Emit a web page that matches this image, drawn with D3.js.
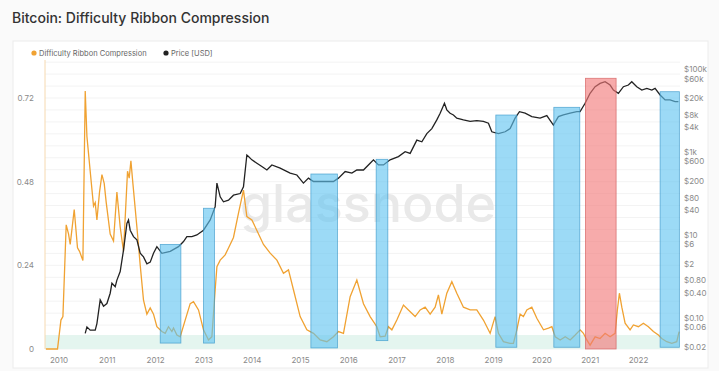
<!DOCTYPE html>
<html>
<head>
<meta charset="utf-8">
<script src="https://cdn.jsdelivr.net/npm/d3@7/dist/d3.min.js"></script>
<style>
    body { margin: 0; background: #fafafa; font-family: Inter, "Noto Sans", sans-serif; }
</style>
</head>
<body>
<div id="grafico"></div>
<script>
// datos (anos decimales)
var compYears = [2009.739, 2009.979, 2010.05, 2010.091, 2010.159, 2010.207, 2010.242, 2010.325, 2010.393, 2010.435,
    2010.505, 2010.553, 2010.588, 2010.656, 2010.725, 2010.76, 2010.795, 2010.849, 2010.899, 2010.946,
    2010.988, 2011.07, 2011.139, 2011.209, 2011.277, 2011.346, 2011.429, 2011.464, 2011.499, 2011.54,
    2011.623, 2011.692, 2011.76, 2011.83, 2011.899, 2011.967, 2012.037, 2012.141, 2012.209, 2012.277,
    2012.348, 2012.381, 2012.451, 2012.52, 2012.623, 2012.727, 2012.795, 2012.899, 2013.002, 2013.106,
    2013.176, 2013.244, 2013.28, 2013.348, 2013.451, 2013.52, 2013.623, 2013.727, 2013.83, 2013.9,
    2014.004, 2014.108, 2014.244, 2014.383, 2014.522, 2014.658, 2014.762, 2014.865, 2015.004, 2015.143,
    2015.28, 2015.418, 2015.557, 2015.693, 2015.797, 2015.901, 2016.039, 2016.178, 2016.315, 2016.453,
    2016.592, 2016.66, 2016.764, 2016.832, 2016.903, 2017.006, 2017.143, 2017.246, 2017.385, 2017.489,
    2017.592, 2017.696, 2017.799, 2017.867, 2017.938, 2018.041, 2018.145, 2018.248, 2018.385, 2018.524,
    2018.662, 2018.799, 2018.938, 2019.041, 2019.11, 2019.213, 2019.352, 2019.42, 2019.491, 2019.559,
    2019.627, 2019.698, 2019.801, 2019.905, 2020.043, 2020.147, 2020.217, 2020.286, 2020.389, 2020.493,
    2020.596, 2020.7, 2020.803, 2020.87, 2020.94, 2021.008, 2021.112, 2021.215, 2021.319, 2021.422,
    2021.526, 2021.573, 2021.615, 2021.665, 2021.733, 2021.836, 2021.905, 2022.008, 2022.112, 2022.215,
    2022.319, 2022.422, 2022.492, 2022.596, 2022.7, 2022.803, 2022.851];
var compValues = [0, 0, 0.083, 0.093, 0.356, 0.33, 0.30, 0.40, 0.29, 0.28,
    0.254, 0.74, 0.61, 0.51, 0.41, 0.42, 0.37, 0.45, 0.50, 0.475,
    0.42, 0.33, 0.31, 0.45, 0.35, 0.28, 0.51, 0.49, 0.54, 0.475,
    0.35, 0.24, 0.14, 0.10, 0.118, 0.10, 0.064, 0.05, 0.045, 0.064,
    0.05, 0.06, 0.04, 0.035, 0.083, 0.13, 0.136, 0.112, 0.055, 0.026,
    0.035, 0.17, 0.236, 0.255, 0.27, 0.29, 0.32, 0.39, 0.456, 0.38,
    0.37, 0.34, 0.30, 0.275, 0.255, 0.217, 0.227, 0.17, 0.093, 0.055,
    0.045, 0.026, 0.021, 0.035, 0.05, 0.045, 0.15, 0.198, 0.13, 0.093,
    0.064, 0.035, 0.037, 0.064, 0.055, 0.083, 0.126, 0.112, 0.093, 0.112,
    0.12, 0.10, 0.12, 0.155, 0.10, 0.16, 0.193, 0.16, 0.12, 0.112,
    0.112, 0.083, 0.045, 0.093, 0.045, 0.021, 0.016, 0.016, 0.055, 0.10,
    0.093, 0.112, 0.12, 0.088, 0.055, 0.06, 0.064, 0.035, 0.026, 0.035,
    0.026, 0.04, 0.055, 0.045, 0.026, 0.011, 0.035, 0.03, 0.045, 0.035,
    0.045, 0.112, 0.16, 0.12, 0.074, 0.055, 0.069, 0.064, 0.074, 0.064,
    0.05, 0.04, 0.03, 0.021, 0.016, 0.021, 0.05];

var priceYears = [2010.553, 2010.588, 2010.656, 2010.76, 2010.795, 2010.863, 2010.932, 2011.002, 2011.07, 2011.106,
    2011.174, 2011.209, 2011.277, 2011.346, 2011.416, 2011.449, 2011.484, 2011.553, 2011.623, 2011.692,
    2011.76, 2011.83, 2011.899, 2011.967, 2012.037, 2012.141, 2012.313, 2012.484, 2012.588, 2012.658,
    2012.762, 2012.865, 2013.002, 2013.141, 2013.244, 2013.28, 2013.348, 2013.416, 2013.52, 2013.623,
    2013.762, 2013.83, 2013.9, 2013.934, 2014.004, 2014.108, 2014.211, 2014.315, 2014.418, 2014.59,
    2014.797, 2014.936, 2015.072, 2015.176, 2015.28, 2015.418, 2015.557, 2015.693, 2015.797, 2015.936,
    2016.075, 2016.178, 2016.315, 2016.453, 2016.522, 2016.625, 2016.729, 2016.867, 2017.039, 2017.178,
    2017.282, 2017.42, 2017.524, 2017.627, 2017.731, 2017.834, 2017.903, 2017.992, 2018.041, 2018.109,
    2018.178, 2018.248, 2018.385, 2018.524, 2018.662, 2018.799, 2018.903, 2018.973, 2019.11, 2019.248,
    2019.352, 2019.455, 2019.545, 2019.663, 2019.801, 2019.973, 2020.112, 2020.248, 2020.352, 2020.455,
    2020.594, 2020.733, 2020.801, 2020.905, 2021.008, 2021.112, 2021.215, 2021.319, 2021.422, 2021.491,
    2021.594, 2021.698, 2021.801, 2021.871, 2021.975, 2022.079, 2022.182, 2022.286, 2022.354, 2022.458,
    2022.561, 2022.665, 2022.768, 2022.837];
var priceValues = [0.042, 0.06, 0.05, 0.05, 0.072, 0.27, 0.19, 0.22, 0.39, 0.68,
    0.56, 0.81, 1.3, 4.3, 19, 23, 13, 9.1, 7.6, 3.6,
    2.95, 2.0, 2.2, 3.6, 5.2, 3.6, 4.0, 5.2, 6.9, 9.1,
    9.1, 10, 13, 23, 48, 178, 83, 63, 69, 91,
    100, 145, 850, 780, 650, 540, 450, 370, 490, 410,
    310, 280, 178, 235, 195, 195, 195, 195, 235, 340,
    310, 370, 370, 540, 650, 490, 490, 650, 780, 1020,
    930, 1950, 1780, 2800, 3700, 6000, 8700, 15100, 10500, 8700,
    7900, 6600, 6000, 5500, 5750, 5500, 5000, 3100, 2800, 3100,
    3700, 6600, 9500, 8700, 7200, 6600, 7600, 4500, 7200, 7900,
    8700, 9500, 9500, 15100, 26300, 38000, 45700, 50100, 41700, 31600,
    26300, 38000, 41700, 50100, 38000, 31600, 34700, 31600, 34700, 24000,
    18200, 18200, 16600, 16600];

// zonas de compresion: inicio, fin, techo (precio), suelo (compresion)
var zonaInicio = [2012.106, 2013.002, 2015.226, 2016.578, 2019.056, 2020.257, 2020.911, 2022.458];
var zonaFin = [2012.534, 2013.23, 2015.776, 2016.82, 2019.491, 2020.795, 2021.547, 2022.857];
var zonaTecho = [5.9, 44, 296, 670, 7870, 12080, 60700, 28800];
var zonaSuelo = [0.017, 0.017, 0.003, 0.024, 0.005, 0.005, 0, 0.005];
var zonaTipo = ["azul", "azul", "azul", "azul", "azul", "azul", "roja", "azul"];

var anyos = [2010, 2011, 2012, 2013, 2014, 2015, 2016, 2017, 2018, 2019, 2020, 2021, 2022];
var ticksIzq = [0, 0.24, 0.48, 0.72];
var ticksPrecio = [100000, 60000, 20000, 8000, 4000, 1000, 600, 200, 80, 40, 10, 6, 2, 0.8, 0.4, 0.1, 0.06, 0.02];
var etiquetasPrecio = ["$100k", "$60k", "$20k", "$8k", "$4k", "$1k", "$600", "$200", "$80", "$40",
    "$10", "$6", "$2", "$0.80", "$0.40", "$0.10", "$0.06", "$0.02"];

var w = 719, h = 371;
var izq = 45, der = 680, arriba = 60, abajo = 349;

var colores = {
    naranja: "#f0a232",
    negro: "#222222",
    banda: "#e4f5ef",
    azul: "rgba(95,195,240,0.62)",
    azulBorde: "rgba(55,150,200,0.75)",
    roja: "rgba(242,120,120,0.62)",
    rojaBorde: "rgba(210,90,90,0.75)",
    texto: "#8a8a8a"
};

var svg = d3.select("#grafico").append("svg")
    .attr("width", w)
    .attr("height", h);

svg.append("rect").attr("width", w).attr("height", h).attr("fill", "#fafafa");

svg.append("text")
    .attr("x", 12).attr("y", 23)
    .attr("font-size", "14px")
    .attr("font-weight", 500)
    .attr("fill", "#333")
    .text("Bitcoin: Difficulty Ribbon Compression");

// panel blanco
svg.append("rect")
    .attr("x", 13).attr("y", 41)
    .attr("width", 695).attr("height", 327)
    .attr("fill", "#ffffff")
    .attr("stroke", "#ececec");

var x = d3.scaleLinear().domain([2009.72, 2022.87]).range([izq, der]);
var y = d3.scaleLinear().domain([0, (abajo - arriba) / 348.6]).range([abajo, arriba]);
var yPrecio = d3.scaleLog().domain([Math.pow(10, -1.756), Math.pow(10, 5.225)]).range([abajo, arriba]);

// rejilla
svg.append("g").selectAll("line")
    .data(d3.range(0, 0.83, 0.24 / 7))
    .enter().append("line")
    .attr("x1", izq).attr("x2", der)
    .attr("y1", function(d) { return y(d); })
    .attr("y2", function(d) { return y(d); })
    .attr("stroke", "#f3f3f3");

// marca de agua
svg.append("text")
    .attr("x", 368).attr("y", 222)
    .attr("text-anchor", "middle")
    .attr("font-size", "52px")
    .attr("font-weight", 500)
    .attr("fill", "#e9e9e9")
    .text("glassnode");

// banda verde
svg.append("rect")
    .attr("x", izq).attr("width", der - izq)
    .attr("y", y(0.04)).attr("height", y(0) - y(0.04))
    .attr("fill", colores.banda);

// eje izquierdo
svg.append("line")
    .attr("x1", izq).attr("x2", izq)
    .attr("y1", arriba).attr("y2", abajo)
    .attr("stroke", "#f6d9b0");

var compresion = compYears.map(function(a, i) { return {t: a, v: compValues[i]}; });
var precio = priceYears.map(function(a, i) { return {t: a, v: priceValues[i]}; });

svg.append("path")
    .datum(compresion)
    .attr("fill", "none")
    .attr("stroke", colores.naranja)
    .attr("stroke-width", 1.3)
    .attr("d", d3.line().x(function(d) { return x(d.t); }).y(function(d) { return y(d.v); }));

svg.append("path")
    .datum(precio)
    .attr("fill", "none")
    .attr("stroke", colores.negro)
    .attr("stroke-width", 1.3)
    .attr("d", d3.line().x(function(d) { return x(d.t); }).y(function(d) { return yPrecio(d.v); }));

// zonas
var zonas = zonaInicio.map(function(a, i) {
    return {ini: a, fin: zonaFin[i], techo: zonaTecho[i], suelo: zonaSuelo[i], tipo: zonaTipo[i]};
});
svg.append("g").selectAll("rect")
    .data(zonas)
    .enter().append("rect")
    .attr("x", function(d) { return x(d.ini); })
    .attr("width", function(d) { return x(d.fin) - x(d.ini); })
    .attr("y", function(d) { return yPrecio(d.techo); })
    .attr("height", function(d) { return y(d.suelo) - yPrecio(d.techo); })
    .attr("fill", function(d) { return d.tipo == "roja" ? colores.roja : colores.azul; })
    .attr("stroke", function(d) { return d.tipo == "roja" ? colores.rojaBorde : colores.azulBorde; })
    .attr("stroke-width", 0.8);

// ejes
var ejeX = svg.append("g")
    .attr("transform", "translate(0," + (abajo + 4) + ")")
    .call(d3.axisBottom(x).tickValues(anyos).tickFormat(d3.format("d")).tickSize(0));
ejeX.select(".domain").remove();
ejeX.selectAll("text").attr("fill", colores.texto).attr("font-size", "8px").attr("dy", "0.9em");

var ejeIzq = svg.append("g")
    .attr("transform", "translate(37,0)")
    .call(d3.axisLeft(y).tickValues(ticksIzq).tickFormat(function(d) { return d === 0 ? "0" : d3.format(".2f")(d); }).tickSize(0));
ejeIzq.select(".domain").remove();
ejeIzq.selectAll("text").attr("fill", colores.texto).attr("font-size", "8px");

var ejeDer = svg.append("g")
    .attr("transform", "translate(681,0)")
    .call(d3.axisRight(yPrecio).tickValues(ticksPrecio).tickFormat(function(d, i) { return etiquetasPrecio[i]; }).tickSize(0));
ejeDer.select(".domain").remove();
ejeDer.selectAll("text").attr("fill", colores.texto).attr("font-size", "8px");

svg.selectAll(".tick text").attr("font-family", "Inter, 'Noto Sans', sans-serif");

// leyenda
var leyenda = svg.append("g").attr("font-size", "7.5px").attr("fill", "#666");
leyenda.append("circle").attr("cx", 34).attr("cy", 53).attr("r", 2.6).attr("fill", colores.naranja);
leyenda.append("text").attr("x", 39).attr("y", 55.5).text("Difficulty Ribbon Compression");
leyenda.append("circle").attr("cx", 166).attr("cy", 53).attr("r", 2.6).attr("fill", colores.negro);
leyenda.append("text").attr("x", 171).attr("y", 55.5).text("Price [USD]");
</script>
</body>
</html>
